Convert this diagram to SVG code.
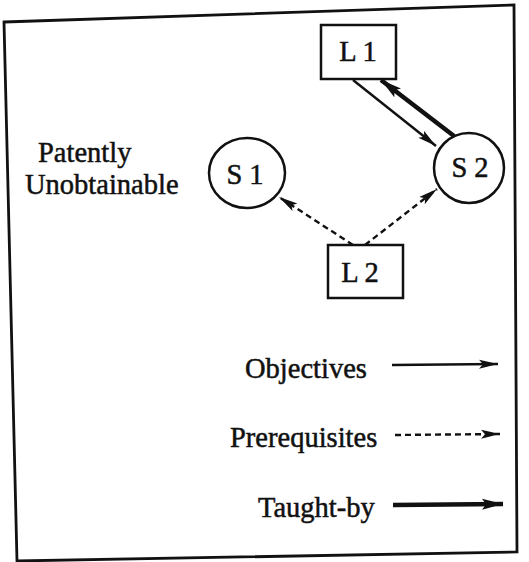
<svg xmlns="http://www.w3.org/2000/svg" width="529" height="562" viewBox="0 0 529 562">
<style>
text{font-family:"Liberation Serif","Times New Roman",serif;fill:#111;font-size:28.5px;stroke:#111;stroke-width:0.5}
.node{fill:none;stroke:#111;stroke-width:2.5}
.obj{stroke:#111;stroke-width:2.4;fill:none}
.pre{stroke:#111;stroke-width:2.4;fill:none;stroke-dasharray:6 4}
.tb{stroke:#111;stroke-width:4.5;fill:none}
</style>
<defs>
<marker id="ah" markerUnits="userSpaceOnUse" markerWidth="22" markerHeight="12" refX="19" refY="6" orient="auto">
<path d="M0,1.5 L19,6 L0,10.5 L4,6 Z" fill="#111"/>
</marker>
<marker id="ahb" markerUnits="userSpaceOnUse" markerWidth="24" markerHeight="14" refX="21" refY="7" orient="auto">
<path d="M0,1.5 L21,7 L0,12.5 L4,7 Z" fill="#111"/>
</marker>
</defs>
<polygon points="4,22 514,5 517,552 17,561" fill="none" stroke="#111" stroke-width="2.8"/>
<g id="L1"><rect class="node" x="321" y="25" width="75" height="54"/><text x="358" y="61" text-anchor="middle">L 1</text></g>
<g id="S1"><ellipse class="node" cx="247" cy="173" rx="38" ry="35"/><text x="245" y="184" text-anchor="middle">S 1</text></g>
<g id="S2"><circle class="node" cx="469" cy="168" r="35"/><text x="470" y="177" text-anchor="middle">S 2</text></g>
<g id="L2"><rect class="node" x="328" y="245" width="75" height="53"/><text x="360" y="282" text-anchor="middle">L 2</text></g>
<g id="label-unobtainable"><text x="38" y="162">Patently</text><text x="25" y="194">Unobtainable</text></g>
<g id="connectors">
<line class="obj" x1="353" y1="80" x2="436" y2="146" marker-end="url(#ah)"/>
<line class="tb" x1="454" y1="136" x2="381" y2="80" marker-end="url(#ahb)"/>
<line class="pre" x1="353" y1="245" x2="279" y2="197" marker-end="url(#ah)"/>
<line class="pre" x1="365" y1="245" x2="437" y2="189" marker-end="url(#ah)"/>
</g>
<g id="legend">
<text x="245" y="378">Objectives</text>
<line class="obj" x1="392" y1="365" x2="498" y2="364" marker-end="url(#ah)"/>
<text x="230" y="447">Prerequisites</text>
<line class="pre" x1="395" y1="435" x2="500" y2="434" marker-end="url(#ah)"/>
<text x="258" y="517">Taught-by</text>
<line class="tb" x1="393" y1="505" x2="503" y2="504" marker-end="url(#ahb)"/>
</g>
</svg>
